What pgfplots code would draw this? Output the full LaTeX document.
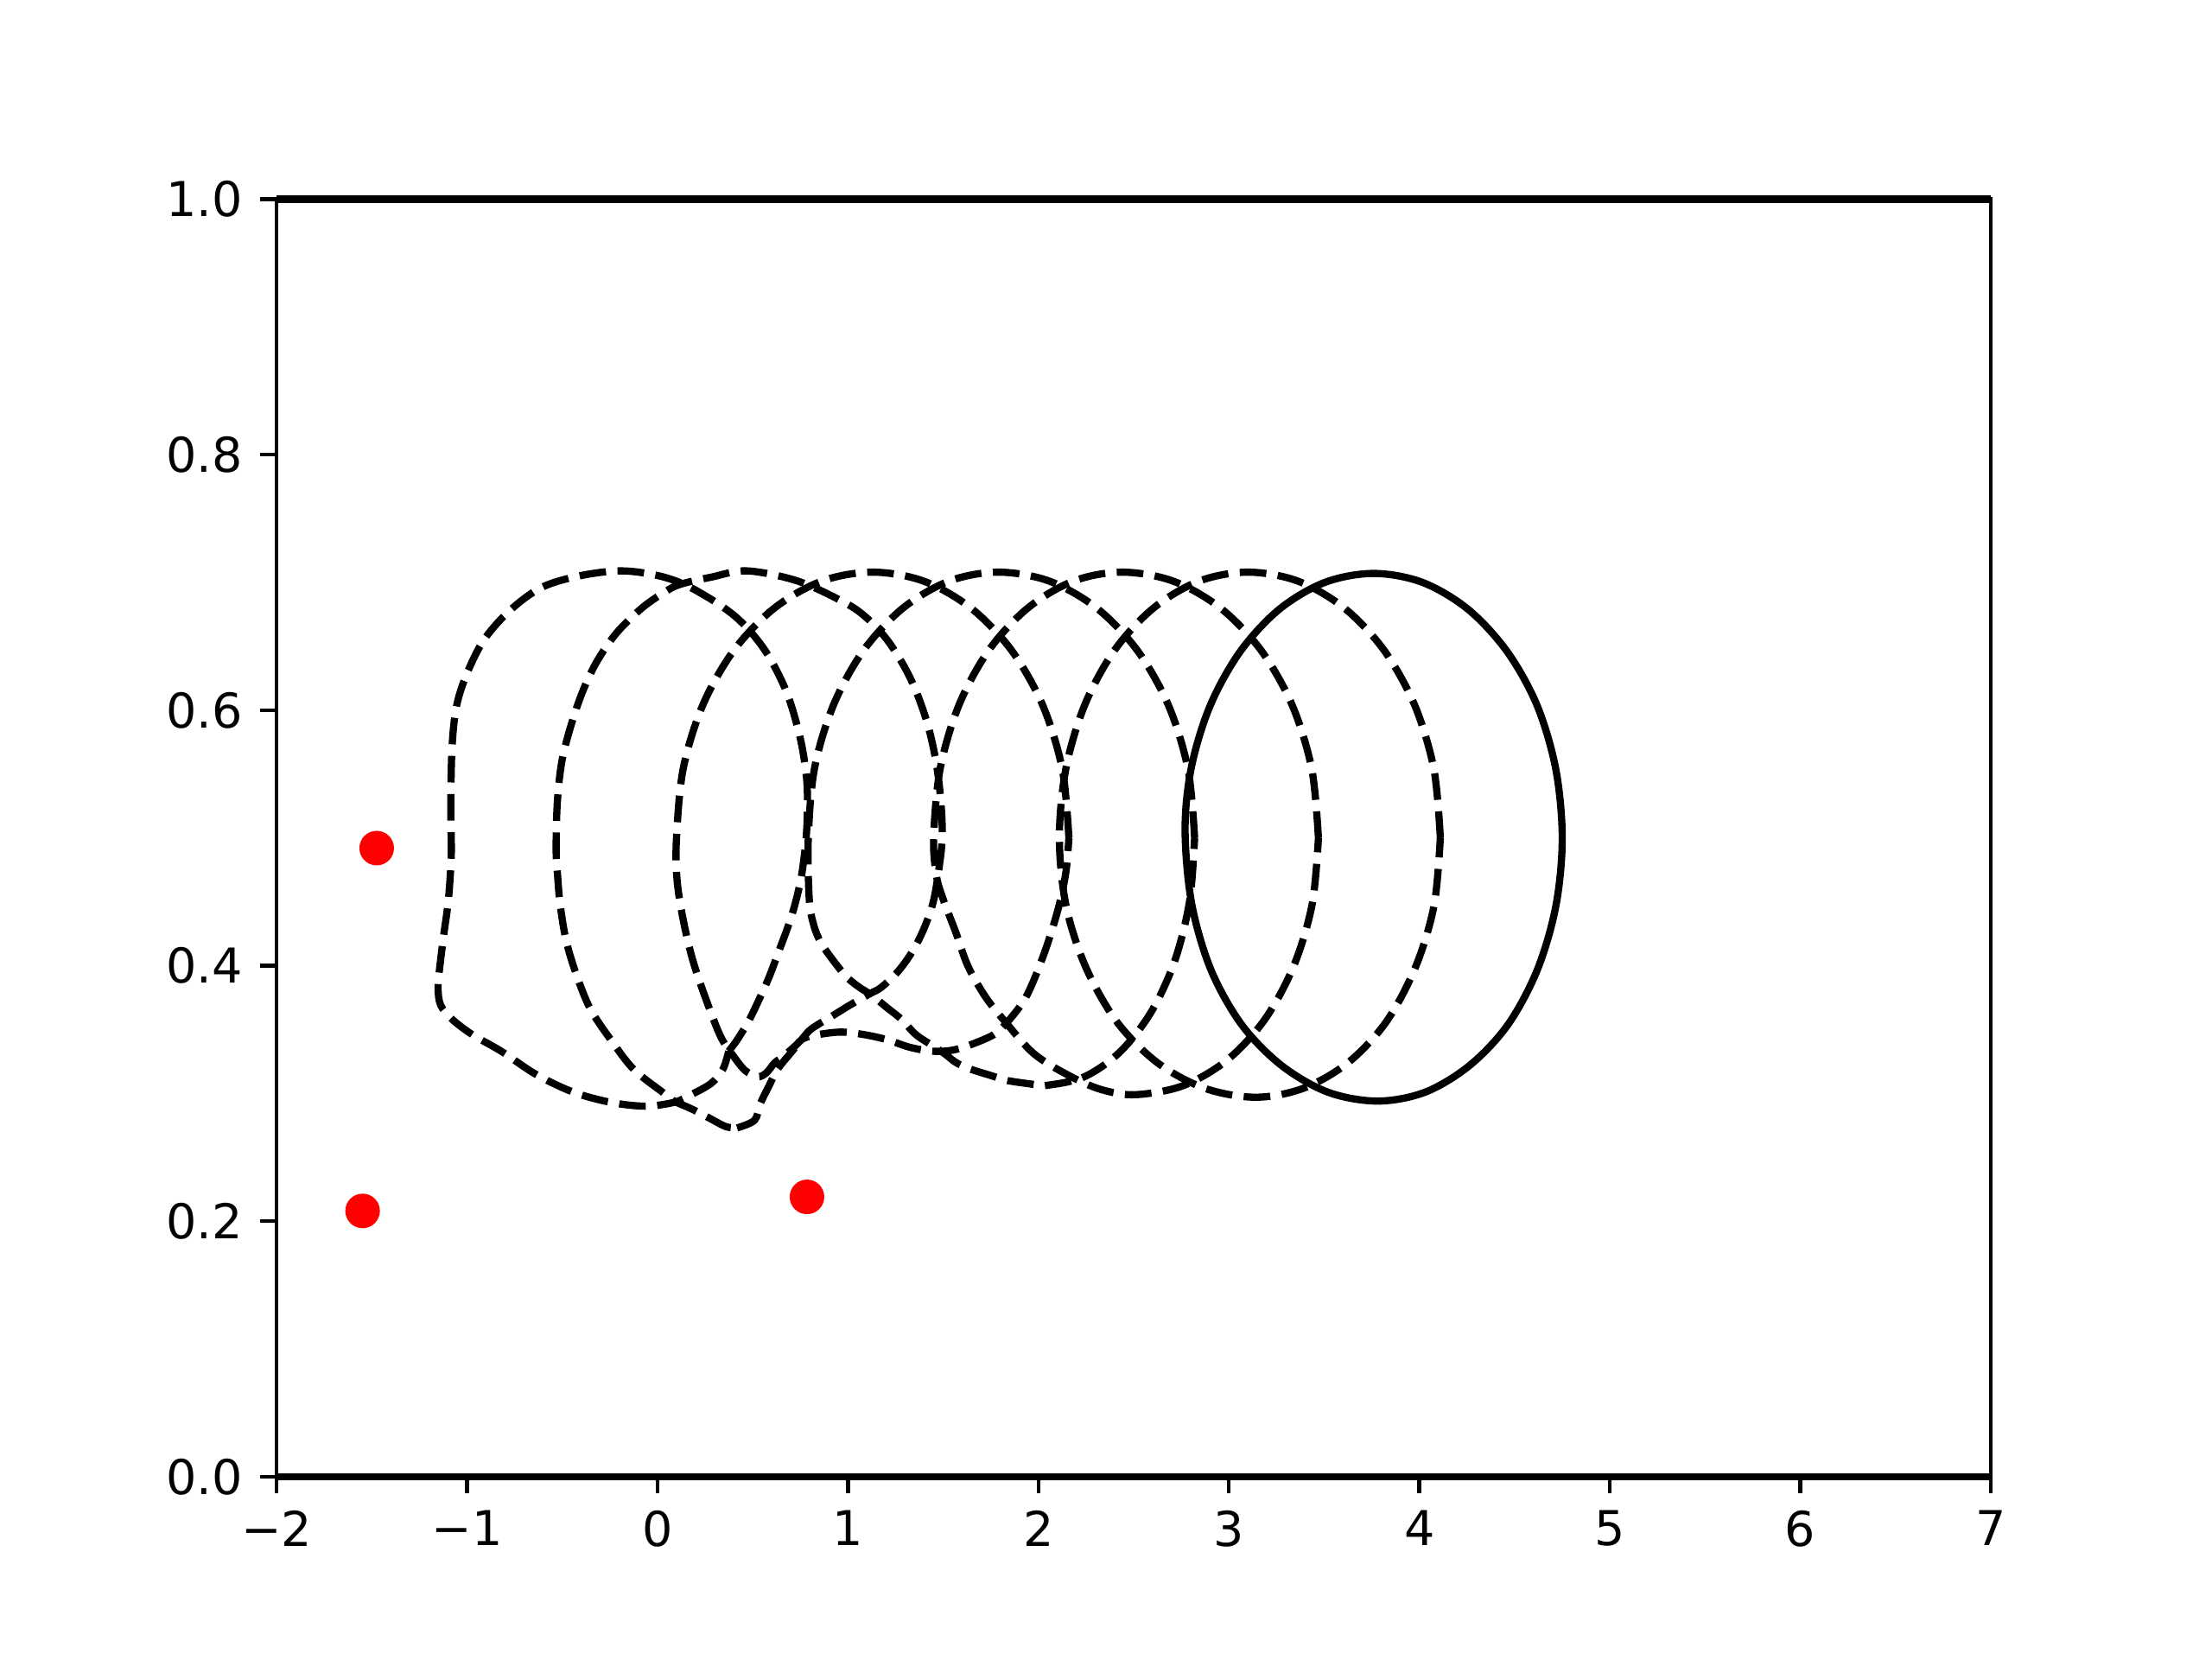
\documentclass[border=0pt]{standalone}
\usepackage{fontspec}
\setmainfont{DejaVu Sans}
\usepackage{pgfplots}
\pgfplotsset{compat=1.18}
\begin{document}
\begin{tikzpicture}
\begin{axis}[name=ax, at={(0,0)}, anchor=south west,
  width=357.12pt, height=266.11pt, scale only axis,
  xmin=-2, xmax=7, ymin=0, ymax=1,
  xtick={-2,-1,0,1,2,3,4,5,6,7},
  xticklabels={−2,−1,0,1,2,3,4,5,6,7},
  ytick={0,0.2,0.4,0.6,0.8,1},
  yticklabels={0.0,0.2,0.4,0.6,0.8,1.0},
  tick align=outside, tick pos=left, major tick length=3.5pt,
  every tick/.style={black, line width=0.8pt},
  axis line style={line width=0.8pt},
  ticklabel style={font=\fontsize{10}{12}\selectfont},
  clip=false,
  dsh/.style={black, line width=1.5pt, dash pattern=on 5.55pt off 2.4pt, line join=round, smooth, tension=0.55, mark=none},
  sld/.style={black, line width=1.5pt, line join=round, smooth cycle, tension=0.55, mark=none},
]
% boundary lines
\addplot[black, line width=1.5pt, mark=none] coordinates {(-2,0) (7,0)};
\addplot[black, line width=1.5pt, mark=none] coordinates {(-2,1) (7,1)};
% loop A
\addplot[dsh] coordinates {
(0.374,0.333) (0.419,0.342) (0.48,0.357) (0.532,0.373) (0.586,0.391) (0.639,0.412) (0.684,0.430) (0.722,0.448) (0.758,0.472) (0.783,0.505) (0.786,0.540) (0.762,0.569) (0.722,0.594) (0.670,0.617) (0.589,0.641) (0.508,0.658) (0.411,0.673) (0.290,0.686) (0.132,0.699) (-0.019,0.706) (-0.201,0.709) (-0.412,0.705) (-0.609,0.696) (-0.775,0.678) (-0.911,0.655) (-1.002,0.628) (-1.055,0.603) (-1.078,0.572) (-1.085,0.527) (-1.082,0.490) (-1.088,0.470) (-1.100,0.448) (-1.123,0.423) (-1.145,0.396) (-1.152,0.382) (-1.138,0.369) (-1.078,0.358) (-0.972,0.346) (-0.82,0.333) (-0.639,0.315) (-0.442,0.301) (-0.245,0.293) (-0.064,0.290) (0.087,0.293) (0.177,0.299) (0.283,0.308) (0.344,0.319) (0.374,0.333)};
% loop 2
\addplot[dsh] coordinates {
(0.418,0.273) (0.51,0.279) (0.54,0.292) (0.586,0.306) (0.631,0.319) (0.707,0.333) (0.767,0.344) (0.813,0.351) (0.933,0.362) (1.009,0.369) (1.115,0.378) (1.175,0.383) (1.266,0.396) (1.342,0.412) (1.402,0.430) (1.448,0.450) (1.475,0.473) (1.495,0.500) (1.487,0.530) (1.462,0.560) (1.420,0.588) (1.360,0.614) (1.296,0.634) (1.206,0.655) (1.100,0.672) (0.985,0.684) (0.737,0.701) (0.470,0.709) (0.280,0.704) (0.132,0.699) (0.055,0.694) (-0.081,0.680) (-0.217,0.660) (-0.322,0.637) (-0.397,0.613) (-0.458,0.586) (-0.503,0.559) (-0.526,0.527) (-0.532,0.490) (-0.524,0.470) (-0.511,0.448) (-0.48,0.420) (-0.426,0.393) (-0.352,0.366) (-0.245,0.342) (-0.126,0.319) (0.026,0.301) (0.087,0.294) (0.177,0.288) (0.268,0.281) (0.359,0.274) (0.418,0.273)};
% loop 3
\addplot[dsh] coordinates {
(2.16,0.50) (2.125,0.554) (2.022,0.604) (1.858,0.647) (1.645,0.680) (1.397,0.701) (1.13,0.708) (0.863,0.701) (0.615,0.680) (0.402,0.647) (0.238,0.604) (0.135,0.554) (0.10,0.50) (0.103,0.467) (0.135,0.436) (0.184,0.405) (0.249,0.376) (0.33,0.345) (0.395,0.330) (0.46,0.318) (0.525,0.313) (0.571,0.316) (0.616,0.324) (0.661,0.329) (0.722,0.337) (0.767,0.343) (0.843,0.346) (0.964,0.348) (1.085,0.346) (1.206,0.342) (1.327,0.336) (1.448,0.333) (1.554,0.334) (1.66,0.339) (1.766,0.346) (1.826,0.354) (1.917,0.371) (1.977,0.389) (2.05,0.418) (2.11,0.448) (2.145,0.474) (2.16,0.50)};
% loop 4
\addplot[dsh] coordinates {
(2.82,0.50) (2.785,0.554) (2.682,0.604) (2.518,0.647) (2.305,0.680) (2.057,0.701) (1.79,0.708) (1.531,0.701) (1.29,0.680) (1.083,0.647) (0.924,0.604) (0.824,0.554) (0.792,0.50) (0.797,0.452) (0.82,0.432) (0.858,0.418) (0.918,0.405) (0.994,0.391) (1.07,0.382) (1.115,0.378) (1.206,0.367) (1.281,0.358) (1.357,0.346) (1.448,0.337) (1.508,0.331) (1.569,0.324) (1.644,0.319) (1.75,0.314) (1.84,0.310) (1.977,0.307) (2.03,0.306) (2.235,0.3126) (2.425,0.332) (2.589,0.363) (2.714,0.403) (2.793,0.450) (2.82,0.50)};
% loop 5
\addplot[dsh] coordinates {
(3.47,0.50) (3.435,0.554) (3.332,0.604) (3.168,0.647) (2.955,0.680) (2.707,0.701) (2.44,0.708) (2.184,0.701) (1.945,0.680) (1.74,0.647) (1.583,0.604) (1.484,0.554) (1.45,0.50) (1.465,0.470) (1.50,0.452) (1.538,0.437) (1.569,0.425) (1.629,0.40) (1.72,0.376) (1.826,0.356) (1.977,0.331) (2.16,0.314) (2.33,0.303) (2.51,0.299) (2.759,0.306) (2.99,0.326) (3.189,0.358) (3.341,0.400) (3.437,0.448) (3.47,0.50)};
% loop 6
\addplot[dsh] coordinates {
(4.11,0.50) (4.076,0.554) (3.975,0.604) (3.814,0.647) (3.605,0.680) (3.362,0.701) (3.10,0.708) (2.844,0.701) (2.605,0.680) (2.40,0.647) (2.243,0.604) (2.144,0.554) (2.11,0.50) (2.145,0.447) (2.248,0.399) (2.412,0.356) (2.625,0.324) (2.873,0.304) (3.14,0.297) (3.391,0.304) (3.625,0.324) (3.826,0.356) (3.98,0.399) (4.077,0.447) (4.11,0.50)};
% solid final shape
\addplot[sld] coordinates {
(4.75,0.50) (4.716,0.554) (4.617,0.604) (4.460,0.646) (4.255,0.679) (4.016,0.700) (3.76,0.707) (3.504,0.700) (3.265,0.679) (3.06,0.646) (2.903,0.604) (2.804,0.556) (2.77,0.507) (2.804,0.449) (2.905,0.397) (3.066,0.354) (3.275,0.322) (3.519,0.301) (3.78,0.294) (4.031,0.301) (4.265,0.322) (4.466,0.354) (4.62,0.397) (4.717,0.447)};
% red points
\addplot[only marks, mark=*, mark size=3.4pt, red, mark options={fill=red, draw=red}] coordinates {(-1.474,0.492) (-1.548,0.208) (0.785,0.219)};
\end{axis}
\pgfresetboundingbox
\path[use as bounding box] ([xshift=-57.6pt,yshift=-38.016pt]ax.south west) rectangle ([xshift=46.08pt,yshift=41.472pt]ax.north east);
\end{tikzpicture}
\end{document}
